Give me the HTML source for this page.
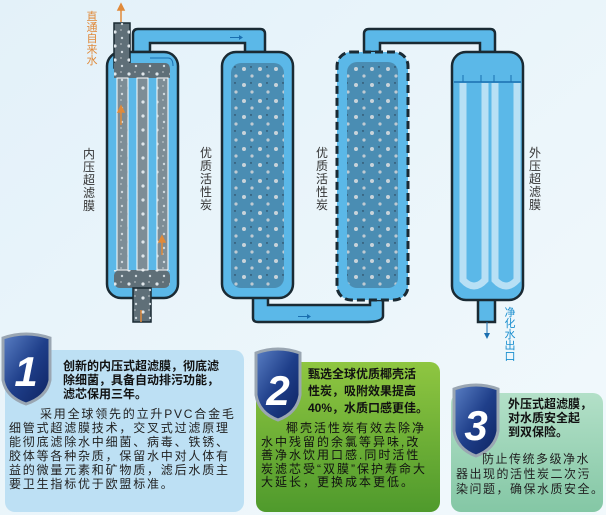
<!DOCTYPE html>
<html><head><meta charset="utf-8">
<style>
html,body{margin:0;padding:0;width:606px;height:515px;overflow:hidden;background:#eaf5fb;}
text{font-family:"Liberation Sans","Noto Sans CJK SC",sans-serif;}
</style></head><body>
<svg width="606" height="515" viewBox="0 0 606 515" xmlns="http://www.w3.org/2000/svg">
<defs>
<linearGradient id="bg" x1="0" y1="0" x2="1" y2="1"><stop offset="0" stop-color="#e3f1f9"/><stop offset="1" stop-color="#f2f9fc"/></linearGradient>
<linearGradient id="g2" x1="0" y1="0" x2="0" y2="1"><stop offset="0" stop-color="#8fc641"/><stop offset="1" stop-color="#4f9a2c"/></linearGradient>
<linearGradient id="g3" x1="0" y1="0" x2="0" y2="1"><stop offset="0" stop-color="#b3e0c8"/><stop offset="1" stop-color="#84c7a5"/></linearGradient>
<linearGradient id="sh" x1="0" y1="0" x2="1" y2="1"><stop offset="0" stop-color="#5a7fc4"/><stop offset="0.5" stop-color="#1f3f8a"/><stop offset="1" stop-color="#0d2260"/></linearGradient>
<pattern id="dots" width="14" height="14" patternUnits="userSpaceOnUse"><circle cx="3" cy="4" r="1.6" fill="#dfe6ea"/><circle cx="10" cy="10" r="1.2" fill="#cfd8dd"/><circle cx="9" cy="2" r="0.6" fill="#fff"/></pattern>
<pattern id="cdots" width="16" height="16" patternUnits="userSpaceOnUse"><circle cx="4" cy="5" r="2" fill="#c8d3da"/><circle cx="12" cy="12" r="1.6" fill="#bfcad2"/><circle cx="11" cy="3" r="0.7" fill="#234"/></pattern>
</defs>
<rect width="606" height="515" fill="url(#bg)"/>

<g fill="#5bb8e8" stroke="#1a2a33" stroke-width="2.5">
<path d="M133 52 V34 Q133 29 138 29 H260 Q265 29 265 34 V52 H245 V43 H150 V52 Z"/>
<path d="M253 297 V318 Q253 322 258 322 H365 Q383 322 383 316 V300 H370 V305 H268 V297 Z" />
<path d="M364 52 V34 Q364 29 369 29 H490 Q495 29 495 34 V52 H480 V43 H380 V52 Z"/>
<rect x="478" y="298" width="17" height="24"/>
</g>
<rect x="107" y="52" width="71" height="246" rx="14" fill="#5bb8e8" stroke="#1a2a33" stroke-width="2.5"/>
<rect x="114" y="23" width="16" height="45" fill="#5f6f78" stroke="#1a2a33" stroke-width="1.5"/>
<rect x="114" y="23" width="16" height="45" fill="url(#dots)"/>
<path d="M114 63 H165 Q170 63 170 70 V78 H114 Z" fill="#5f6f78"/>
<rect x="114" y="63" width="56" height="15" fill="url(#dots)"/>
<rect x="114" y="270" width="56" height="18" rx="6" fill="#5f6f78"/>
<rect x="114" y="270" width="56" height="18" fill="url(#dots)"/>
<rect x="133" y="288" width="18" height="34" fill="#5f6f78" stroke="#1a2a33" stroke-width="1.5"/>
<rect x="133" y="288" width="18" height="34" fill="url(#dots)"/>
<g fill="#7d8d96" stroke="#fff" stroke-width="1">
<rect x="117" y="78" width="11" height="192"/><rect x="137" y="78" width="11" height="192"/><rect x="157" y="78" width="11" height="192"/>
</g>
<g fill="url(#dots)"><rect x="117" y="78" width="11" height="192"/><rect x="137" y="78" width="11" height="192"/><rect x="157" y="78" width="11" height="192"/></g>
<g stroke="#e08a3a" stroke-width="1.5" fill="#e08a3a">
<line x1="121" y1="22" x2="121" y2="8"/><path d="M118 10 L121 4 L124 10Z"/>
<line x1="121" y1="125" x2="121" y2="110"/><path d="M118 112 L121 106 L124 112Z"/>
<line x1="162" y1="255" x2="162" y2="240"/><path d="M159 242 L162 236 L165 242Z"/>
<line x1="141" y1="322" x2="141" y2="310"/>
</g>
<path d="M150 58 H168 Q173 58 173 66" stroke="#1a6fb0" fill="none" stroke-width="1"/>

<rect x="222" y="52" width="71" height="246" rx="14" fill="#5bb8e8" stroke="#1a2a33" stroke-width="2.5"/>
<rect x="231" y="63" width="53" height="225" rx="10" fill="#4a8db3"/>
<rect x="231" y="63" width="53" height="225" rx="10" fill="url(#cdots)"/>
<rect x="337" y="52" width="71" height="248" rx="14" fill="#5bb8e8" stroke="#1a2a33" stroke-width="3" stroke-dasharray="8,4"/>
<rect x="347" y="62" width="51" height="226" rx="10" fill="#4a8db3"/>
<rect x="347" y="62" width="51" height="226" rx="10" fill="url(#cdots)"/>
<rect x="452" y="52" width="71" height="248" rx="14" fill="#5bb8e8" stroke="#1a2a33" stroke-width="2.5"/>
<line x1="454" y1="82" x2="521" y2="82" stroke="#1a6fb0" stroke-width="1.5"/>
<g fill="none" stroke="#b8e0f5" stroke-width="7">
<path d="M463 83 V280 Q474 292 485 280 V83"/>
<path d="M495 83 V280 Q506 292 517 280 V83"/>
</g>
<g stroke="#1a6fb0" stroke-width="1"><line x1="463" y1="82" x2="463" y2="75"/><line x1="481" y1="82" x2="481" y2="75"/><line x1="494" y1="82" x2="494" y2="75"/><line x1="511" y1="82" x2="511" y2="75"/>
<line x1="487" y1="322" x2="487" y2="335"/></g>
<path d="M484 333 L487 339 L490 333Z" fill="#1a6fb0"/>
<g fill="#1a6fb0"><path d="M230 37 h9 v-2 l4 2.5 -4 2.5 v-2 h-9z"/><path d="M298 316 h9 v-2 l4 2.5 -4 2.5 v-2 h-9z"/></g>

<g font-size="11" fill="#e08a3a" text-anchor="middle"><text x="92" y="20">直</text><text x="92" y="31">通</text><text x="92" y="42">自</text><text x="92" y="53">来</text><text x="92" y="64">水</text></g>
<g font-size="12" fill="#333" text-anchor="middle">
<text x="89" y="158">内</text><text x="89" y="171">压</text><text x="89" y="184">超</text><text x="89" y="197">滤</text><text x="89" y="210">膜</text>
<text x="206" y="157">优</text><text x="206" y="170">质</text><text x="206" y="183">活</text><text x="206" y="196">性</text><text x="206" y="209">炭</text>
<text x="322" y="157">优</text><text x="322" y="170">质</text><text x="322" y="183">活</text><text x="322" y="196">性</text><text x="322" y="209">炭</text>
<text x="535" y="157">外</text><text x="535" y="170">压</text><text x="535" y="183">超</text><text x="535" y="196">滤</text><text x="535" y="209">膜</text>
</g>
<g font-size="11" fill="#1a8fcf" text-anchor="middle"><text x="510" y="316">净</text><text x="510" y="327">化</text><text x="510" y="338">水</text><text x="510" y="349">出</text><text x="510" y="360">口</text></g>

<rect x="5" y="350" width="239" height="162" rx="10" fill="#bde0f4"/>
<rect x="256" y="362" width="184" height="150" rx="10" fill="url(#g2)"/>
<rect x="451" y="393" width="152" height="119" rx="10" fill="url(#g3)"/>

<g stroke="#9aa6b2" stroke-width="3" fill="url(#sh)">
<path d="M3 338 Q26 330 50 338 V380 Q47 397 26 404 Q6 397 3 380Z"/>
<path d="M256 353 Q278 345 300 353 V395 Q297 413 278 420 Q259 413 256 395Z"/>
<path d="M454 389 Q476 381 498 389 V431 Q495 449 476 456 Q457 449 454 431Z"/>
</g>
<g font-size="42" font-weight="bold" font-style="italic" fill="#fff" text-anchor="middle">
<text x="26" y="386">1</text><text x="278" y="405">2</text><text x="476" y="440">3</text></g>

<g font-size="12" font-weight="bold" fill="#111">
<text x="63" y="370">创新的内压式超滤膜，彻底滤</text>
<text x="63" y="384">除细菌，具备自动排污功能，</text>
<text x="63" y="398">滤芯保用三年。</text>
<text x="308" y="378">甄选全球优质椰壳活</text>
<text x="308" y="395">性炭，吸附效果提高</text>
<text x="308" y="412">40%，水质口感更佳。</text>
<text x="508" y="408">外压式超滤膜，</text>
<text x="508" y="422">对水质安全起</text>
<text x="508" y="436">到双保险。</text>
</g>
<g font-size="12" fill="#222" letter-spacing="1.8">
<text x="40" y="418">采用全球领先的立升PVC合金毛</text>
<text x="9" y="432">细管式超滤膜技术，交叉式过滤原理</text>
<text x="9" y="446">能彻底滤除水中细菌、病毒、铁锈、</text>
<text x="9" y="460">胶体等各种杂质，保留水中对人体有</text>
<text x="9" y="474">益的微量元素和矿物质，滤后水质主</text>
<text x="9" y="488">要卫生指标优于欧盟标准。</text>
</g>
<g font-size="12" fill="#111" letter-spacing="2">
<text x="286" y="432">椰壳活性炭有效去除净</text>
<text x="261" y="446">水中残留的余氯等异味,改</text>
<text x="261" y="459">善净水饮用口感.同时活性</text>
<text x="261" y="473">炭滤芯受“双膜”保护寿命大</text>
<text x="261" y="486">大延长，更换成本更低。</text>
</g>
<g font-size="12" fill="#222" letter-spacing="1.5">
<text x="482" y="463">防止传统多级净水</text>
<text x="456" y="478">器出现的活性炭二次污</text>
<text x="456" y="493">染问题，确保水质安全。</text>
</g>
</svg>
</body></html>
